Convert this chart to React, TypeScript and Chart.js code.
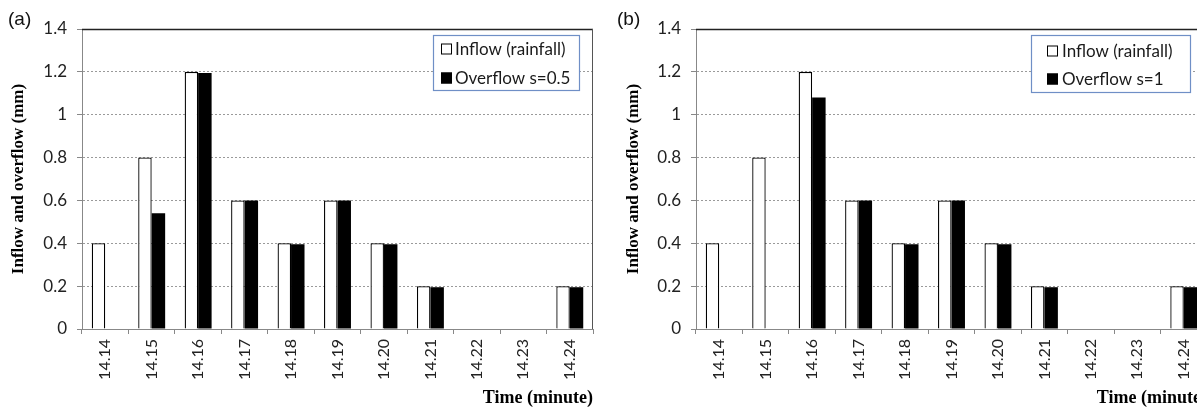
import React, { useEffect, useRef } from "react";
import { Chart, registerables } from "chart.js";

Chart.register(...registerables);

const categories = ["14.14", "14.15", "14.16", "14.17", "14.18", "14.19", "14.20", "14.21", "14.22", "14.23", "14.24"];
const inflow = [0.4, 0.8, 1.2, 0.6, 0.4, 0.6, 0.4, 0.2, 0, 0, 0.2];
const overflowHalf = [0, 0.54, 1.195, 0.6, 0.395, 0.6, 0.395, 0.195, 0, 0, 0.195];
const overflowOne = [0, 0, 1.08, 0.6, 0.395, 0.6, 0.395, 0.195, 0, 0, 0.195];
const yTicks = [0, 0.2, 0.4, 0.6, 0.8, 1, 1.2, 1.4];
const inflowLabel = "Inflow (rainfall)";
const overflowHalfLabel = "Overflow s=0.5";
const overflowOneLabel = "Overflow s=1";
const yTitle = "Inflow and overflow (mm)";
const xTitle = "Time (minute)";

type LegendCfg = {
  rightOffset: number;
  topOffset: number;
  width: number;
  height: number;
  markerDx: number;
  textDx: number;
  row1: number;
  row2: number;
};

const framePlugin = {
  id: "frameAndLegend",
  afterDraw(chart: any, _args: any, opts: any) {
    const { ctx, chartArea } = chart;
    const { left, right, top } = chartArea;
    ctx.save();
    ctx.setLineDash([]);
    ctx.strokeStyle = "#222";
    ctx.lineWidth = 1.5;
    ctx.beginPath();
    ctx.moveTo(left, top + 0.5);
    ctx.lineTo(right, top + 0.5);
    ctx.stroke();
    ctx.strokeStyle = "#555";
    ctx.lineWidth = 1;
    ctx.beginPath();
    ctx.moveTo(right - 0.5, top);
    ctx.lineTo(right - 0.5, chartArea.bottom);
    ctx.stroke();

    const cfg: LegendCfg = opts.cfg;
    const bx = right - cfg.rightOffset - cfg.width;
    const by = top + cfg.topOffset;
    ctx.fillStyle = "#ffffff";
    ctx.fillRect(bx, by, cfg.width, cfg.height);
    ctx.strokeStyle = "#6f8fc6";
    ctx.lineWidth = 1.2;
    ctx.strokeRect(bx + 0.5, by + 0.5, cfg.width, cfg.height);

    const ds = chart.data.datasets;
    const rows = [cfg.row1, cfg.row2];
    ctx.font = "17px Lato";
    ctx.textBaseline = "middle";
    ctx.textAlign = "left";
    ds.forEach((d: any, i: number) => {
      const cy = by + rows[i];
      const mx = bx + cfg.markerDx;
      const size = 11;
      ctx.fillStyle = d.backgroundColor;
      ctx.fillRect(mx, cy - size / 2, size, size);
      ctx.strokeStyle = "#000";
      ctx.lineWidth = 1;
      ctx.strokeRect(mx + 0.5, cy - size / 2 + 0.5, size - 1, size - 1);
      ctx.fillStyle = "#1a1a1a";
      ctx.fillText(d.label, bx + cfg.textDx, cy + 1);
    });
    ctx.restore();
  },
};

function Panel(props: {
  overflow: number[];
  overflowLabel: string;
  width: number;
  axisWidth: number;
  rightPad: number;
  legend: LegendCfg;
}) {
  const ref = useRef<HTMLCanvasElement>(null);
  useEffect(() => {
    if (!ref.current) return;
    const chart = new Chart(ref.current, {
      type: "bar",
      data: {
        labels: categories,
        datasets: [
          {
            label: inflowLabel,
            data: inflow,
            backgroundColor: "#ffffff",
            borderColor: "#000000",
            borderWidth: 1.3,
            categoryPercentage: 0.58,
            barPercentage: 1,
          },
          {
            label: props.overflowLabel,
            data: props.overflow,
            backgroundColor: "#000000",
            borderColor: "#000000",
            borderWidth: 0,
            categoryPercentage: 0.58,
            barPercentage: 1,
          },
        ],
      },
      options: {
        responsive: false,
        animation: false,
        devicePixelRatio: 1,
        layout: { padding: { left: 0, top: 29, right: props.rightPad, bottom: 0 } },
        plugins: {
          legend: { display: false },
          tooltip: { enabled: false },
          frameAndLegend: { cfg: props.legend },
        } as any,
        scales: {
          x: {
            type: "category",
            offset: true,
            grid: {
              offset: true,
              drawOnChartArea: false,
              drawTicks: true,
              tickLength: 5,
              tickColor: "#888",
              color: "#888",
            },
            border: { display: true, color: "#888", width: 1 },
            ticks: {
              minRotation: 90,
              maxRotation: 90,
              autoSkip: false,
              padding: 5,
              color: "#222",
              font: { family: "Lato", size: 16 },
            },
            title: {
              display: true,
              text: xTitle,
              align: "end",
              color: "#000",
              font: { family: "Liberation Serif", size: 18, weight: "bold" },
              padding: { top: 0, bottom: 0 },
            },
            afterFit: (s: any) => {
              s.height = 80;
            },
          },
          y: {
            min: 0,
            max: 1.4,
            afterBuildTicks: (s: any) => {
              s.ticks = yTicks.map((v) => ({ value: v }));
            },
            grid: {
              color: "#9a9a9a",
              lineWidth: 1,
              drawTicks: true,
              tickLength: 5,
              tickColor: "#888",
              tickBorderDash: [],
            },
            border: { display: true, color: "#888", width: 1, dash: [2, 2] },
            ticks: {
              padding: 10,
              color: "#222",
              font: { family: "Lato", size: 17 },
              callback: (v: any) => String(Math.round(Number(v) * 10) / 10),
            },
            title: {
              display: true,
              text: yTitle,
              color: "#000",
              font: { family: "Liberation Serif", size: 17, weight: "bold" },
              padding: { top: 8, bottom: 0 },
            },
            afterFit: (s: any) => {
              s.width = props.axisWidth;
            },
          },
        } as any,
      },
      plugins: [framePlugin],
    });
    return () => chart.destroy();
  }, []);
  return <canvas ref={ref} width={props.width} height={409} style={{ display: "block" }} />;
}

export default function App() {
  const labelStyle: React.CSSProperties = {
    position: "absolute",
    top: 8,
    fontFamily: "'Liberation Sans', Arial, sans-serif",
    fontSize: 19,
    color: "#111",
    lineHeight: "22px",
  };
  return (
    <div
      style={{
        position: "absolute",
        left: 0,
        top: 0,
        width: 1197,
        height: 409,
        overflow: "hidden",
        background: "#ffffff",
      }}
    >
      <div style={{ position: "absolute", left: 0, top: 0 }}>
        <Panel
          overflow={overflowHalf}
          overflowLabel={overflowHalfLabel}
          width={600}
          axisWidth={82}
          rightPad={7}
          legend={{ rightOffset: 14, topOffset: 6, width: 146, height: 55, markerDx: 8, textDx: 22, row1: 14, row2: 43 }}
        />
      </div>
      <div style={{ position: "absolute", left: 615, top: 0 }}>
        <Panel
          overflow={overflowOne}
          overflowLabel={overflowOneLabel}
          width={600}
          axisWidth={81}
          rightPad={8}
          legend={{ rightOffset: 17, topOffset: 6, width: 159, height: 57, markerDx: 16, textDx: 31, row1: 16, row2: 44 }}
        />
      </div>
      <div style={{ ...labelStyle, left: 8 }}>(a)</div>
      <div style={{ ...labelStyle, left: 617 }}>(b)</div>
    </div>
  );
}
